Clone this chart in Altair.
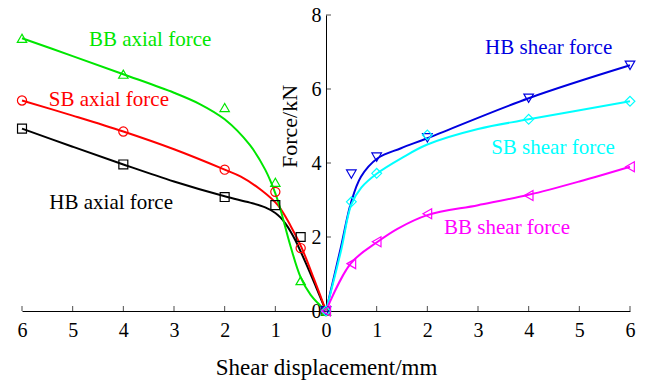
import altair as alt
import pandas as pd

# ---- measured points (displacement in mm, force in kN) ----
disp = [0, 0.5, 1, 2, 4, 6]
hb_axial = [0, 2.00, 2.86, 3.08, 3.96, 4.93]
sb_axial = [0, 1.70, 3.22, 3.82, 4.85, 5.69]
bb_axial = [0, 0.82, 3.48, 5.50, 6.40, 7.37]
hb_shear = [0, 3.70, 4.16, 4.68, 5.75, 6.64]
sb_shear = [0, 2.95, 3.72, 4.76, 5.18, 5.67]
bb_shear = [0, 1.28, 1.87, 2.63, 3.12, 3.90]

# ---- fitted curves ----
hb_axial_cd = [0, 0.2, 0.4, 0.6, 0.7, 0.8, 0.9, 1.0, 1.2, 1.5, 2, 3, 4, 5, 6]
hb_axial_cf = [0, 0.66, 1.30, 1.90, 2.15, 2.36, 2.53, 2.65, 2.80, 2.93, 3.10, 3.50, 3.96, 4.44, 4.93]
sb_axial_cd = [0, 0.23, 0.49, 0.69, 0.95, 1.28, 1.68, 2, 3, 4, 5, 6]
sb_axial_cf = [0, 0.84, 1.74, 2.28, 2.86, 3.27, 3.63, 3.82, 4.37, 4.85, 5.28, 5.69]
bb_axial_cd = [0, 0.3, 0.5, 0.7, 0.9, 1.0, 1.2, 1.5, 2.0, 2.5, 3.0, 4.0, 5, 6]
bb_axial_cf = [0, 0.43, 0.91, 1.75, 2.75, 3.18, 3.82, 4.48, 5.18, 5.60, 5.90, 6.40, 6.89, 7.37]
hb_shear_cd = [0, 0.30, 0.49, 0.69, 1.02, 1.48, 2, 4, 6]
hb_shear_cf = [0, 1.76, 2.91, 3.63, 4.13, 4.40, 4.67, 5.75, 6.64]
sb_shear_cd = [0, 0.30, 0.50, 0.70, 1.0, 1.5, 2, 3, 4, 6]
sb_shear_cf = [0, 1.65, 2.88, 3.34, 3.71, 4.14, 4.50, 4.92, 5.18, 5.67]
bb_shear_cd = [0, 0.49, 1.02, 1.41, 2, 3, 4, 5, 6]
bb_shear_cf = [0, 1.29, 1.87, 2.22, 2.59, 2.86, 3.14, 3.50, 3.90]

series = ["HB axial force", "SB axial force", "BB axial force",
          "HB shear force", "SB shear force", "BB shear force"]
colors = ["#000000", "#ff0000", "#00e600", "#0000e0", "#00ffff", "#ff00ff"]
shapes = ["square", "circle", "triangle-up", "triangle-down", "diamond", "triangle-left"]
sizes = [80, 100, 170, 170, 140, 170]
sides = [-1, -1, -1, 1, 1, 1]
marker_vals = [hb_axial, sb_axial, bb_axial, hb_shear, sb_shear, bb_shear]
curve_d = [hb_axial_cd, sb_axial_cd, bb_axial_cd, hb_shear_cd, sb_shear_cd, bb_shear_cd]
curve_f = [hb_axial_cf, sb_axial_cf, bb_axial_cf, hb_shear_cf, sb_shear_cf, bb_shear_cf]

# label anchor positions (left/baseline of each label)
label_d = [5.46, 5.47, 4.68, 3.14, 3.26, 2.33]
label_f = [2.75, 5.55, 7.17, 6.95, 4.24, 2.07]

x_ticks = list(range(-6, 7))
y_ticks = [0, 2, 4, 6, 8]

pts, crv, lab = [], [], []
for s, side, mv, cd, cf, ld, lf in zip(series, sides, marker_vals, curve_d, curve_f, label_d, label_f):
    for d, f in zip(disp, mv):
        pts.append({"x": side * d, "y": f, "series": s})
    for d, f in zip(cd, cf):
        crv.append({"x": side * d, "y": f, "series": s})
    lab.append({"x": side * ld, "y": lf, "series": s})
pts = pd.DataFrame(pts)
crv = pd.DataFrame(crv)
lab = pd.DataFrame(lab)
xt = pd.DataFrame({"x": x_ticks, "y": [0] * len(x_ticks)})
yt = pd.DataFrame({"x": [0] * len(y_ticks), "y": y_ticks})

FONT = "Liberation Serif"
W, H = 608, 296

xscale = alt.Scale(domain=[-6, 6], nice=False, zero=False)
yscale = alt.Scale(domain=[0, 8], nice=False)
cscale = alt.Scale(domain=series, range=colors)
sscale = alt.Scale(domain=series, range=shapes)
zscale = alt.Scale(domain=series, range=sizes)

xaxis = alt.Axis(values=x_ticks, labelExpr="abs(datum.value)", ticks=False, grid=False,
                 domainColor="black", domainWidth=1, labelFont=FONT, labelFontSize=20,
                 labelColor="black", labelPadding=9, labelFlush=False,
                 title="Shear displacement/mm", titleFont=FONT, titleFontSize=23,
                 titleFontWeight="normal", titleColor="black", titleY=63,
                 titleBaseline="alphabetic")
yaxis = alt.Axis(values=y_ticks, ticks=False, grid=False, offset=-W / 2,
                 domainColor="black", domainWidth=1, labelFont=FONT, labelFontSize=20,
                 labelColor="black", labelPadding=5, labelFlush=False,
                 title="Force/kN", titleFont=FONT, titleFontSize=22,
                 titleFontWeight="normal", titleColor="black", titleX=-37, titleY=111,
                 titleAngle=-90, titleAlign="center", titleBaseline="middle")

X = alt.X("x:Q", scale=xscale, axis=xaxis)
Y = alt.Y("y:Q", scale=yscale, axis=yaxis)
C = alt.Color("series:N", scale=cscale, legend=None)

lines = alt.Chart(crv).mark_line(strokeWidth=2, interpolate="catmull-rom").encode(
    x=X, y=Y, color=C, detail="series:N")
points = alt.Chart(pts).mark_point(filled=False, strokeWidth=1.2, opacity=1).encode(
    x="x:Q", y="y:Q", color=C,
    shape=alt.Shape("series:N", scale=sscale, legend=None),
    size=alt.Size("series:N", scale=zscale, legend=None))
labels = alt.Chart(lab).mark_text(font=FONT, fontSize=21, align="left", baseline="alphabetic").encode(
    x="x:Q", y="y:Q", text="series:N", color=C)
xtk = alt.Chart(xt).mark_tick(orient="vertical", size=5, thickness=1, yOffset=-2.5, color="black").encode(
    x="x:Q", y="y:Q")
ytk = alt.Chart(yt).mark_tick(orient="horizontal", size=5, thickness=1, xOffset=2.5, color="black").encode(
    x="x:Q", y="y:Q")

chart = alt.layer(xtk, ytk, lines, points, labels).properties(
    width=W, height=H,
    padding={"left": 22, "top": 15, "right": 18, "bottom": 72},
    autosize=alt.AutoSizeParams(type="none"),
    background="white",
).configure(font=FONT).configure_axis(
    labelFont=FONT, titleFont=FONT
).configure_view(stroke=None)

chart.save("out.html", embed_options={"renderer": "svg", "actions": False})
